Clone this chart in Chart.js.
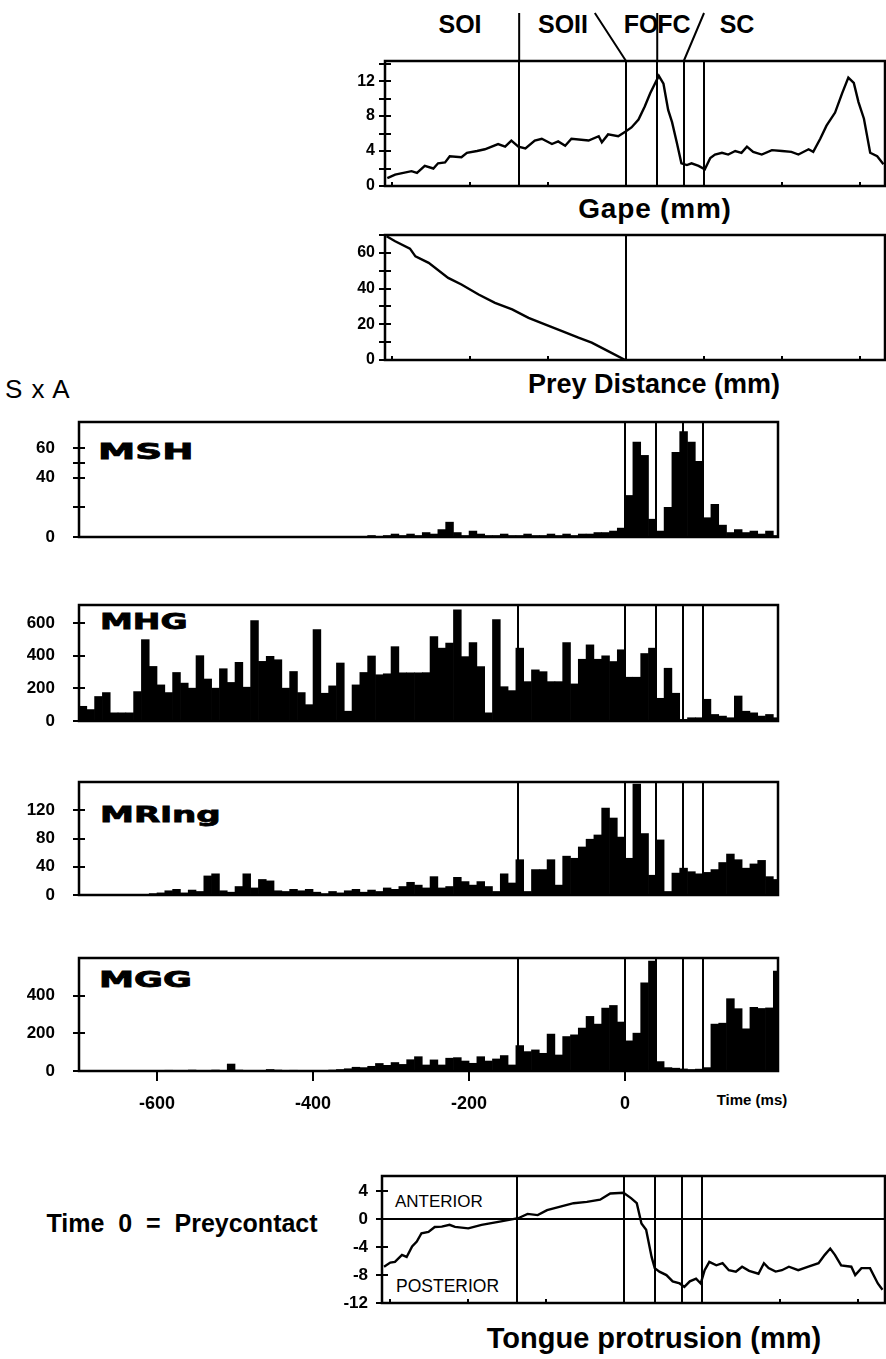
<!DOCTYPE html>
<html>
<head>
<meta charset="utf-8">
<title>Gape, prey distance, EMG and tongue protrusion</title>
<script src="https://cdn.jsdelivr.net/npm/chart.js"></script>
<style>
  body { margin: 0; background: #fff; }
  #page { position: relative; width: 886px; height: 1359px; overflow: hidden;
          font-family: "Liberation Sans", Arial, sans-serif; color: #000; }
  #page canvas { position: absolute; }
  .lbl { position: absolute; white-space: nowrap; line-height: 1; }
  .c { transform: translateX(-50%); }
  .b { font-weight: bold; }
  .muscle { font-family: "DejaVu Sans", sans-serif; font-weight: bold; font-size: 22px;
            -webkit-text-stroke: 0.8px #000; transform-origin: left top; }
</style>
</head>
<body>
<div id="page">
  <div class="lbl c b" style="left:460px; top:12px; font-size:25px;">SOI</div>
  <div class="lbl c b" style="left:563px; top:12px; font-size:25px;">SOII</div>
  <div class="lbl c b" style="left:641px; top:12px; font-size:25px;">FO</div>
  <div class="lbl c b" style="left:674px; top:12px; font-size:25px;">FC</div>
  <div class="lbl c b" style="left:737px; top:12px; font-size:25px;">SC</div>
  <div class="lbl c b" style="left:655px; top:195px; font-size:28px; letter-spacing:0.8px;">Gape (mm)</div>
  <div class="lbl c b" style="left:654px; top:371px; font-size:27px;">Prey Distance (mm)</div>
  <div class="lbl" style="left:5px; top:376px; font-size:26px; word-spacing:2px;">S x A</div>
  <div class="lbl muscle" style="left:98px; top:441px; transform:scaleX(1.7);">MSH</div>
  <div class="lbl muscle" style="left:100px; top:611px; transform:scaleX(1.5);">MHG</div>
  <div class="lbl muscle" style="left:100px; top:804px; transform:scaleX(1.55);">MRing</div>
  <div class="lbl muscle" style="left:99px; top:969px; transform:scaleX(1.6);">MGG</div>
  <div class="lbl c b" style="left:752px; top:1092px; font-size:15px;">Time (ms)</div>
  <div class="lbl c b" style="left:182px; top:1211px; font-size:25px;">Time&nbsp; 0 &nbsp;=&nbsp; Preycontact</div>
  <div class="lbl" style="left:395px; top:1193px; font-size:17px;">ANTERIOR</div>
  <div class="lbl" style="left:396px; top:1278px; font-size:17.5px;">POSTERIOR</div>
  <div class="lbl c b" style="left:654px; top:1324px; font-size:29px;">Tongue protrusion (mm)</div>
</div>

<script>
// bin centres (ms), 10 ms bins, time 0 = prey contact
const binTimes = [
  -695,-685,-675,-665,-655,-645,-635,-625,-615,-605,
  -595,-585,-575,-565,-555,-545,-535,-525,-515,-505,
  -495,-485,-475,-465,-455,-445,-435,-425,-415,-405,
  -395,-385,-375,-365,-355,-345,-335,-325,-315,-305,
  -295,-285,-275,-265,-255,-245,-235,-225,-215,-205,
  -195,-185,-175,-165,-155,-145,-135,-125,-115,-105,
  -95,-85,-75,-65,-55,-45,-35,-25,-15,-5,
  5,15,25,35,45,55,65,75,85,95,
  105,115,125,135,145,155,165,175,185,195
];

// S x A per bin
const mshSA = [
  0,0,0,0,0,0,0,0,0,0,
  0,0,0,0,0,0,0,0,0,0,
  0,0,0,0,0,0,0,0,0,0,
  0,0,0,0,0,0,0,1,0,1,
  2,1,2,1,3,2,5,10,3,1,
  4,2,1,1,2,1,1,2,1,1,
  2,1,2,1,2,2,3,3,4,6,
  28,64,55,12,4,20,57,71,64,51,
  13,22,8,3,5,3,4,2,4,1
];
const mhgSA = [
  90,70,150,174,50,50,50,180,498,334,
  221,174,297,232,201,400,257,201,320,236,
  359,207,615,365,396,375,201,303,174,100,
  560,170,215,355,60,221,297,398,283,289,
  455,295,295,295,296,517,446,477,681,394,
  480,333,50,620,210,186,446,241,313,302,
  241,241,480,227,378,466,378,399,364,436,
  268,268,413,446,139,323,170,10,20,20,
  133,40,30,20,153,60,50,30,40,20
];
const mringSA = [
  0,0,0,0,0,0,0,0,0,2,
  3,6,8,3,7,5,27,30,6,4,
  12,30,10,22,20,6,5,8,6,8,
  4,2,5,3,6,8,4,7,5,10,
  8,12,18,14,10,26,10,12,25,19,
  14,19,12,5,30,17,50,5,36,36,
  50,14,55,52,68,79,85,123,109,82,
  52,157,87,28,78,5,31,38,33,30,
  32,36,46,58,50,38,44,49,26,22
];
const mggSA = [
  0,0,0,0,0,0,0,0,0,3,
  0,4,2,0,5,3,2,5,3,37,
  5,0,0,3,8,5,3,4,2,0,
  2,3,5,8,12,20,18,25,40,30,
  45,35,60,76,32,59,32,68,71,53,
  41,76,53,64,82,32,135,103,112,94,
  196,85,183,192,228,290,249,334,348,260,
  160,201,468,583,50,18,15,11,8,10,
  18,249,254,384,331,224,338,332,335,530
];

// kinematics
const gapeTime = [-306,-296,-275,-268,-258,-247,-241,-232,-226,-211,-204,-191,-181,-164,-155,-147,-138,-129,-117,-108,
  -95,-87,-78,-70,-48,-35,-31,-23,-10,-1,7,16,24,31,37,42,48,54,59,65,71,78,84,93,101,108,114,123,131,140,
  148,155,163,174,187,200,212,221,234,240,249,257,268,277,285,292,298,305,313,322,330];
const gapeMm = [0.9,1.3,1.7,1.5,2.3,2.0,2.6,2.7,3.4,3.3,3.8,4.0,4.2,4.8,4.5,5.2,4.5,4.3,5.2,5.4,
  4.8,5.1,4.6,5.4,5.2,5.7,5.0,5.9,5.7,6.2,6.7,7.6,9.1,10.6,11.7,12.6,11.7,8.7,7.3,5.0,2.6,2.4,2.6,2.3,1.9,3.2,3.6,3.8,3.6,4.0,
  3.8,4.5,3.9,3.6,4.1,4.0,3.9,3.6,4.2,3.9,5.4,6.9,8.4,10.6,12.4,11.8,9.6,7.7,3.8,3.4,2.5];

const preyTime = [-307,-296,-277,-270,-253,-228,-211,-189,-168,-146,-125,-104,-82,-61,-44,-23,-1];
const preyMm = [69.3,66.5,62.4,58,54.4,46,42.3,36.7,32,28.3,23.6,19.9,16.2,12.5,9.7,5.0,0];

const tongueTime = [-308,-300,-294,-285,-279,-272,-266,-260,-251,-243,-234,-224,-217,-200,-183,-158,-136,-124,-111,-99,
  -82,-65,-48,-31,-18,-1,9,16,22,28,35,39,45,54,62,71,77,84,92,98,
  103,109,118,126,134,143,151,160,172,179,185,194,202,211,223,236,249,257,264,270,
  278,291,296,304,315,325,331];
const tongueMm = [-6.8,-6.2,-6.1,-5.1,-5.4,-3.9,-3.2,-2.0,-1.8,-1.1,-1.05,-0.8,-1.1,-1.3,-0.8,-0.3,0.15,0.77,0.6,1.3,
  1.8,2.3,2.5,2.8,3.7,3.8,3.0,2.3,-0.6,-1.5,-5.4,-7.0,-7.5,-8.0,-8.9,-9.2,-9.7,-8.9,-8.5,-9.2,
  -7.3,-6.1,-6.6,-6.3,-7.3,-7.5,-6.8,-7.4,-7.8,-6.3,-7.0,-7.5,-7.3,-6.8,-7.3,-6.8,-6.3,-5.1,-4.2,-5.1,
  -6.6,-6.8,-8.0,-7.0,-7.0,-9.2,-10.1];

// phase boundaries (ms): SOI|SOII, FO (prey contact), FC, SC ...
const phaseTimes = [-137, 0, 40, 74, 100];
// pointer strokes from the phase names down to the boxes: [time at top, time at box]
const phasePointers = [[-137, -137], [-40, 0], [40, 40], [100, 74]];

// tick labels
const gapeTicks = [0, 4, 8, 12];
const gapeMinor = [2, 6, 10, 14];
const preyTicks = [0, 20, 40, 60];
const preyMinor = [10, 30, 50, 70];
const mshTicks = [0, 40, 60];
const mshMinor = [20, 50];
const mhgTicks = [0, 200, 400, 600];
const mringTicks = [0, 40, 80, 120];
const mggTicks = [0, 200, 400];
const timeTicks = [-600, -400, -200, 0];
const tongueTicks = [4, 0, -4, -8, -12];
const topMinorTimes = [-300, -200, -100, 0, 100, 200, 300];

const tickFont = { family: '"Liberation Sans", Arial, sans-serif', weight: 'bold', size: 17 };

const decor = {
  id: 'decor',
  afterDatasetsDraw(chart, args, o) {
    const { ctx, chartArea: a, scales: { x, y } } = chart;
    ctx.save();
    ctx.strokeStyle = '#000';
    ctx.lineWidth = 2;
    ctx.beginPath();
    (o.lines || []).forEach(t => {
      const px = Math.round(x.getPixelForValue(t));
      ctx.moveTo(px, a.top); ctx.lineTo(px, a.bottom);
    });
    if (o.zero) {
      const py = Math.round(y.getPixelForValue(0));
      ctx.moveTo(a.left, py); ctx.lineTo(a.right, py);
    }
    (o.yMarks || []).forEach(v => {
      const py = Math.round(y.getPixelForValue(v));
      ctx.moveTo(a.left - 6, py); ctx.lineTo(a.left + 6, py);
    });
    (o.xMarks || []).forEach(t => {
      const px = Math.round(x.getPixelForValue(t));
      ctx.moveTo(px, a.bottom); ctx.lineTo(px, a.bottom - 4);
    });
    (o.pointers || []).forEach(([t0, t1]) => {
      ctx.moveTo(x.getPixelForValue(t0), o.pointerTop);
      ctx.lineTo(x.getPixelForValue(t1), a.top);
    });
    ctx.stroke();
    ctx.lineWidth = 2.5;
    ctx.strokeRect(a.left, a.top, a.right - a.left, a.bottom - a.top);
    ctx.restore();
  }
};

function panel(cfg) {
  const [L, T, R, B] = cfg.box;
  const axw = 70, padR = 6;
  // generous padding so the y tick labels never push the plot area around
  const padT = cfg.padTop || 42;
  const xh = cfg.xAxis ? 50 : 0;
  const padB = cfg.xAxis ? 0 : 42;
  const c = document.createElement('canvas');
  c.width = (R - L) + axw + padR;
  c.height = (B - T) + padT + padB + xh;
  c.style.left = (L - axw) + 'px';
  c.style.top = (T - padT) + 'px';
  document.getElementById('page').appendChild(c);

  const ds = cfg.bars
    ? { type: 'bar', data: cfg.times.map((t, i) => ({ x: t, y: cfg.values[i] })),
        backgroundColor: '#000', borderWidth: 0, barPercentage: 1, categoryPercentage: 1 }
    : { type: 'line', data: cfg.times.map((t, i) => ({ x: t, y: cfg.values[i] })),
        borderColor: '#000', borderWidth: 2.4, pointRadius: 0, tension: 0, fill: false };

  new Chart(c, {
    type: ds.type,
    data: { datasets: [ds] },
    plugins: [decor],
    options: {
      responsive: false, animation: false, events: [],
      layout: { padding: { left: 0, right: padR, top: padT, bottom: padB } },
      plugins: {
        legend: { display: false }, tooltip: { enabled: false },
        decor: { lines: cfg.lines, zero: cfg.zero, yMarks: cfg.yMarks,
                 xMarks: cfg.xMarks, pointers: cfg.pointers, pointerTop: cfg.pointerTop }
      },
      scales: {
        x: {
          type: 'linear', min: cfg.xRange[0], max: cfg.xRange[1], offset: false,
          display: !!cfg.xAxis,
          grid: { offset: false, drawOnChartArea: false, drawTicks: true, tickLength: 10, color: '#000', lineWidth: 2 },
          border: { display: false },
          afterBuildTicks: s => { if (cfg.xAxis) s.ticks = cfg.xAxis.map(v => ({ value: v })); },
          afterFit: s => { s.height = xh; },
          ticks: { color: '#000', font: { ...tickFont, size: 18 }, padding: 12, maxRotation: 0 }
        },
        y: {
          min: cfg.yRange[0], max: cfg.yRange[1],
          grid: { display: false, drawTicks: false },
          border: { display: false },
          afterBuildTicks: s => { s.ticks = cfg.yTicks.map(v => ({ value: v })); },
          afterFit: s => { s.width = axw; },
          ticks: { color: '#000', font: { ...tickFont, size: cfg.tickSize || 17 }, padding: cfg.tickPad }
        }
      }
    }
  });
}

const topRange = [-309, 332];
const bottomRange = [-700, 196];

panel({ box: [385, 61, 885, 186], padTop: 61, xRange: topRange, yRange: [0, 14.3],
        times: gapeTime, values: gapeMm, yTicks: gapeTicks, yMarks: gapeTicks.concat(gapeMinor),
        lines: phaseTimes, xMarks: topMinorTimes, pointers: phasePointers, pointerTop: 13,
        tickPad: 10, tickSize: 16 });
panel({ box: [385, 235, 885, 360], xRange: topRange, yRange: [0, 70],
        times: preyTime, values: preyMm, yTicks: preyTicks, yMarks: preyTicks.concat(preyMinor),
        lines: [0], xMarks: topMinorTimes, tickPad: 10, tickSize: 16 });
panel({ box: [79, 422, 778, 537], xRange: bottomRange, yRange: [0, 77.5], bars: true,
        times: binTimes, values: mshSA, yTicks: mshTicks, yMarks: mshTicks.concat(mshMinor),
        lines: [0, 40, 74, 100], tickPad: 24 });
panel({ box: [79, 605, 778, 721], xRange: bottomRange, yRange: [0, 710], bars: true,
        times: binTimes, values: mhgSA, yTicks: mhgTicks, yMarks: mhgTicks,
        lines: phaseTimes, tickPad: 24 });
panel({ box: [79, 782, 778, 895], xRange: bottomRange, yRange: [0, 160], bars: true,
        times: binTimes, values: mringSA, yTicks: mringTicks, yMarks: mringTicks,
        lines: phaseTimes, tickPad: 24 });
panel({ box: [79, 958, 778, 1071], xRange: bottomRange, yRange: [0, 600], bars: true,
        times: binTimes, values: mggSA, yTicks: mggTicks, yMarks: mggTicks,
        lines: phaseTimes, tickPad: 24, xAxis: timeTicks });
panel({ box: [382, 1176, 885, 1303], xRange: [-310.6, 334.2], yRange: [-12, 6.2],
        times: tongueTime, values: tongueMm, yTicks: tongueTicks, yMarks: tongueTicks,
        lines: phaseTimes, zero: true, xMarks: topMinorTimes, tickPad: 14 });
</script>
</body>
</html>
